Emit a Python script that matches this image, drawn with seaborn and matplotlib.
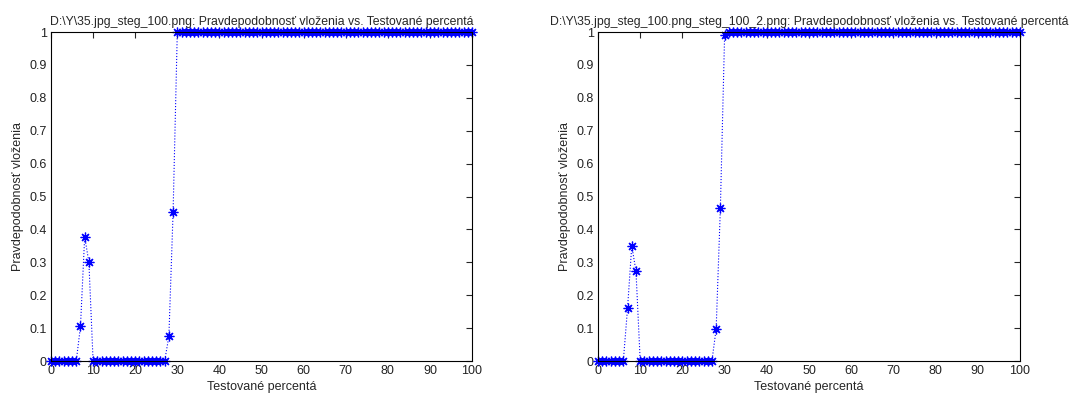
import numpy as np
import pandas as pd
import matplotlib
matplotlib.use("Agg")
import matplotlib.pyplot as plt
import seaborn as sns

x_vals = list(range(0, 101))
y_left = [0]*7 + [0.105, 0.378, 0.30] + [0]*18 + [0.075, 0.452] + [1.0]*71
y_right = [0]*7 + [0.16, 0.35, 0.273] + [0]*18 + [0.098, 0.465] + [0.99] + [1.0]*70
titles = [
    "D:\\Y\\35.jpg_steg_100.png: Pravdepodobnosť vloženia vs. Testované percentá",
    "D:\\Y\\35.jpg_steg_100.png_steg_100_2.png: Pravdepodobnosť vloženia vs. Testované percentá",
]
xlabel = "Testované percentá"
ylabel = "Pravdepodobnosť vloženia"

sns.set_style("white")
plt.rcParams['font.family'] = ['Liberation Sans', 'DejaVu Sans']
plt.rcParams['font.size'] = 9

fig = plt.figure(figsize=(10.79, 3.96), dpi=100)
positions = [[51/1079, 35/396, 421/1079, 329/396], [598/1079, 35/396, 422/1079, 329/396]]

for pos, ys, title in zip(positions, [y_left, y_right], titles):
    ax = fig.add_axes(pos)
    df = pd.DataFrame({"x": x_vals, "y": ys})
    sns.lineplot(data=df, x="x", y="y", ax=ax, color="blue", linestyle=":", linewidth=0.8,
                 marker=(8, 2, 0), markersize=7, markeredgewidth=0.9,
                 markeredgecolor="blue", markerfacecolor="blue")
    ax.set_xlim(0, 100)
    ax.set_ylim(0, 1)
    ax.set_xticks(np.arange(0, 101, 10))
    ax.set_yticks(np.round(np.arange(0, 1.01, 0.1), 1))
    ax.set_yticklabels(["0"] + [f"{v:.1f}" for v in np.arange(0.1, 1.0, 0.1)] + ["1"])
    ax.tick_params(direction="in", top=True, right=True, length=4, width=0.8,
                   labelsize=9, pad=3, labelcolor="#222222")
    for s in ax.spines.values():
        s.set_color("black")
        s.set_linewidth(0.8)
    ax.set_xlabel(xlabel, fontsize=9, labelpad=3)
    ax.set_ylabel(ylabel, fontsize=9, labelpad=4)
    ax.set_title(title, fontsize=8.8, pad=5)
    for c in ax.lines:
        c.set_clip_on(False)

fig.savefig("out.png", dpi=100, facecolor="white")
